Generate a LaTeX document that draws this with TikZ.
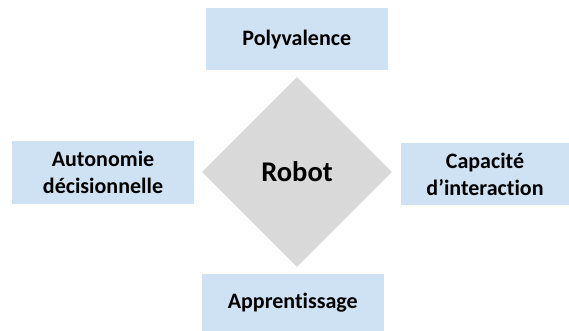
\documentclass[tikz,border=0pt]{standalone}
\usepackage{fontspec}
\setmainfont[Ligatures=NoCommon]{Carlito}
\usetikzlibrary{shapes.geometric}
\definecolor{boxblue}{HTML}{CFE2F3}
\definecolor{diagray}{HTML}{D9D9D9}
\tikzset{
  featbox/.style={fill=boxblue, draw=none, inner sep=0pt, align=center,
    font=\fontsize{22}{27}\selectfont\bfseries},
  centre/.style={diamond, fill=diagray, draw=none, inner sep=0pt,
    minimum width=190pt, minimum height=190pt,
    font=\fontsize{28.5}{32}\selectfont\bfseries}
}
\begin{document}
\begin{tikzpicture}[x=1pt,y=-1pt]
\useasboundingbox (0,0) rectangle (569,331);
\node[centre] (robot) at (297,172) {Robot};
\node[featbox, minimum width=181.5pt, minimum height=62pt] (poly) at (296.75,39.5) {Polyvalence};
\node[featbox, minimum width=182pt, minimum height=63pt] (auto) at (103,172.5) {Autonomie\\décisionnelle};
\node[featbox, minimum width=168pt, minimum height=62pt] (capa) at (485,174) {Capacité\\d’interaction};
\node[featbox, minimum width=181.5pt, minimum height=57pt] (appr) at (292.75,302.5) {Apprentissage};
\end{tikzpicture}
\end{document}
